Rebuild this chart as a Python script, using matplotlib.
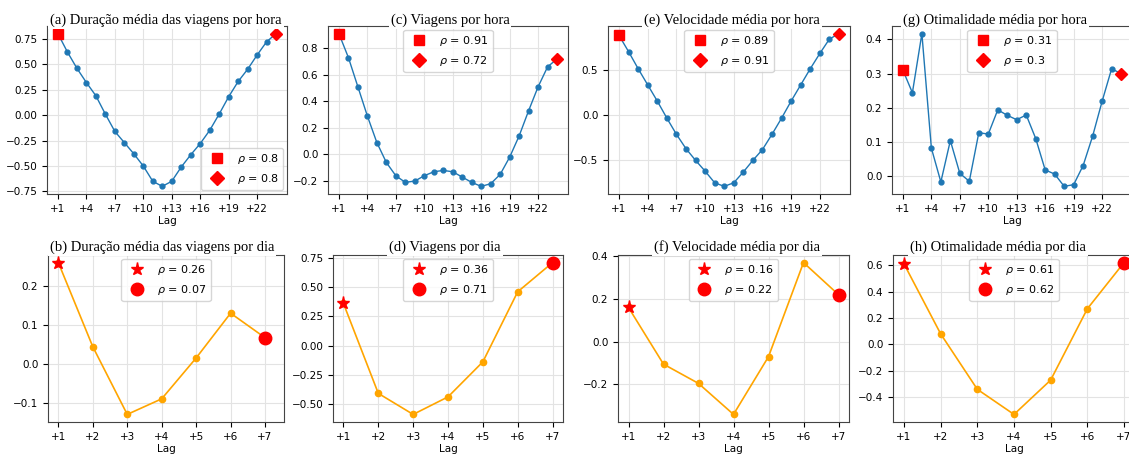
import matplotlib.pyplot as plt
from matplotlib.ticker import MultipleLocator

# ------------------------------
# data
# ------------------------------
lags_hour = list(range(1, 25))
lags_day = list(range(1, 8))
hour_ticks = list(range(1, 23, 3))

duracao_hora = [0.80, 0.62, 0.46, 0.32, 0.19, 0.01, -0.16, -0.27, -0.38, -0.50, -0.65, -0.70,
                -0.65, -0.51, -0.39, -0.28, -0.15, 0.01, 0.18, 0.33, 0.45, 0.59, 0.72, 0.80]
viagens_hora = [0.91, 0.73, 0.51, 0.29, 0.09, -0.06, -0.16, -0.21, -0.20, -0.16, -0.13, -0.12,
                -0.13, -0.17, -0.21, -0.24, -0.22, -0.15, -0.02, 0.14, 0.33, 0.51, 0.66, 0.72]
velocidade_hora = [0.89, 0.71, 0.52, 0.34, 0.16, -0.03, -0.21, -0.37, -0.50, -0.62, -0.75, -0.79,
                   -0.75, -0.63, -0.50, -0.38, -0.21, -0.03, 0.16, 0.34, 0.52, 0.69, 0.85, 0.91]
otimalidade_hora = [0.31, 0.244, 0.417, 0.082, -0.017, 0.104, 0.008, -0.015, 0.127, 0.123, 0.194, 0.178,
                    0.165, 0.179, 0.110, 0.018, 0.006, -0.030, -0.025, 0.031, 0.117, 0.219, 0.314, 0.30]

duracao_dia = [0.26, 0.044, -0.13, -0.09, 0.015, 0.13, 0.067]
viagens_dia = [0.36, -0.41, -0.59, -0.44, -0.14, 0.46, 0.71]
velocidade_dia = [0.16, -0.105, -0.195, -0.34, -0.07, 0.37, 0.22]
otimalidade_dia = [0.61, 0.08, -0.34, -0.53, -0.27, 0.27, 0.62]

titles_hour = ["(a) Duração média das viagens por hora", "(c) Viagens por hora",
               "(e) Velocidade média por hora", "(g) Otimalidade média por hora"]
titles_day = ["(b) Duração média das viagens por dia", "(d) Viagens por dia",
              "(f) Velocidade média por dia", "(h) Otimalidade média por dia"]
rho_hour = [("0.8", "0.8"), ("0.91", "0.72"), ("0.89", "0.91"), ("0.31", "0.3")]
rho_day = [("0.26", "0.07"), ("0.36", "0.71"), ("0.16", "0.22"), ("0.61", "0.62")]

W, H = 1129, 455
plt.rcParams['font.size'] = 7.5
plt.rcParams['legend.fontsize'] = 8
plt.rcParams['axes.edgecolor'] = '#444444'

fig = plt.figure(figsize=(W / 100, H / 100), dpi=100)


def px_axes(left, top, width, height):
    return fig.add_axes([left / W, 1 - (top + height) / H, width / W, height / H])


# pixel boxes of the panels
boxes_hour = [(47, 26, 240, 168), (328, 26, 240, 168), (608, 26, 242, 168), (892, 26, 240, 168)]
boxes_day = [(48, 255, 236, 167), (333, 255, 230, 167), (618, 255, 231, 167), (893, 255, 242, 167)]
title_x_hour = [166, 450, 732, 995]
title_x_day = [162, 445, 737, 998]
ystep_hour = [0.25, 0.2, 0.5, 0.1]
ystep_day = [0.1, 0.25, 0.2, 0.2]
legend_loc_hour = ['lower right', 'upper center', 'upper center', 'upper center']


def style(ax, ystep):
    ax.grid(True, color='#e3e3e3', linewidth=0.8)
    ax.set_axisbelow(True)
    ax.yaxis.set_major_locator(MultipleLocator(ystep))
    ax.set_xlabel("Lag", labelpad=2)


series_hour = [duracao_hora, viagens_hora, velocidade_hora, otimalidade_hora]
for i, vals in enumerate(series_hour):
    ax = px_axes(*boxes_hour[i])
    ax.plot(lags_hour, vals, 'o-', color='#1f77b4', ms=3.5, lw=1)
    ax.plot(lags_hour[0], vals[0], 's', color='red', ms=6.5, linestyle='none',
            label=r"$\rho$ = " + rho_hour[i][0])
    ax.plot(lags_hour[-1], vals[-1], 'D', color='red', ms=6.5, linestyle='none',
            label=r"$\rho$ = " + rho_hour[i][1])
    ax.set_xticks(hour_ticks)
    ax.set_xticklabels([f"+{t}" for t in hour_ticks])
    style(ax, ystep_hour[i])
    ax.legend(loc=legend_loc_hour[i], numpoints=1, borderaxespad=0.35, markerscale=1.1)
    fig.text(title_x_hour[i] / W, 1 - 23.5 / H, titles_hour[i], ha='center', va='baseline',
             family='Liberation Serif', fontsize=10.5,
             bbox=dict(facecolor='white', edgecolor='none', pad=1.5))

series_day = [duracao_dia, viagens_dia, velocidade_dia, otimalidade_dia]
for i, vals in enumerate(series_day):
    ax = px_axes(*boxes_day[i])
    ax.plot(lags_day, vals, 'o-', color='orange', ms=4.5, lw=1.2)
    ax.plot(lags_day[0], vals[0], '*', color='red', ms=9.5, linestyle='none',
            label=r"$\rho$ = " + rho_day[i][0])
    ax.plot(lags_day[-1], vals[-1], 'o', color='red', ms=9, linestyle='none',
            label=r"$\rho$ = " + rho_day[i][1])
    ax.set_xticks(lags_day)
    ax.set_xticklabels([f"+{t}" for t in lags_day])
    if i == 0:
        ax.set_xlim(0.7, 7.55)
    style(ax, ystep_day[i])
    ax.legend(loc='upper center', numpoints=1, borderaxespad=0.35)
    fig.text(title_x_day[i] / W, 1 - 250.5 / H, titles_day[i], ha='center', va='baseline',
             family='Liberation Serif', fontsize=10.5,
             bbox=dict(facecolor='white', edgecolor='none', pad=1.5))

fig.savefig("out.png", dpi=100)
